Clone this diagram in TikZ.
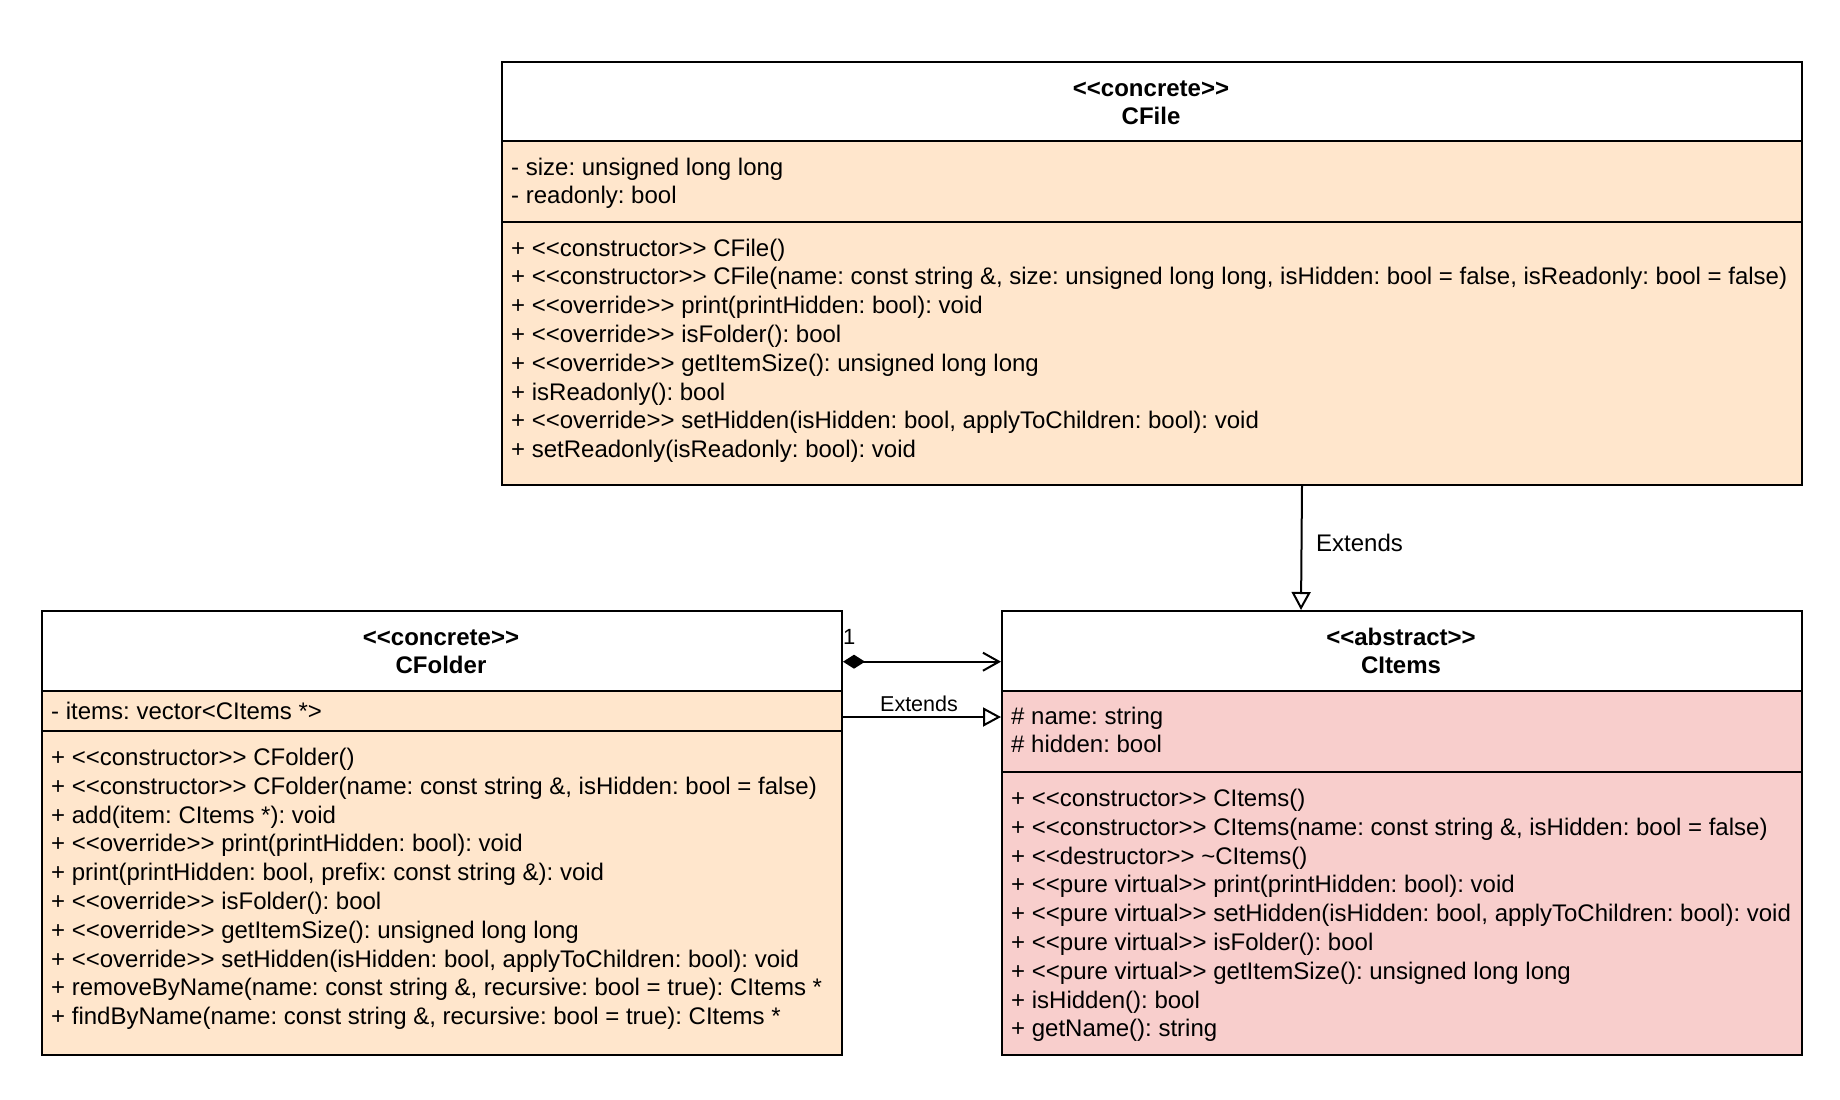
\documentclass[tikz,border=0pt]{standalone}
\usepackage{fontspec}
\setmainfont{Liberation Sans}[Ligatures=TeXOff]
\usetikzlibrary{arrows.meta}
\definecolor{peach}{HTML}{FFE6CC}
\definecolor{rosy}{HTML}{F8CECC}
\frenchspacing
\begin{document}
\begin{tikzpicture}[x=1pt, y=-1pt,
  compbox/.style={draw, line width=2pt, inner sep=0pt, anchor=north west},
  txt/.style={anchor=base west, inner sep=0pt, font=\fontsize{24}{28.8}\selectfont},
  hdrtxt/.style={anchor=base, inner sep=0pt, font=\bfseries\fontsize{24}{28.8}\selectfont},
  lbl/.style={inner sep=0pt, font=\fontsize{22}{26.4}\selectfont},
  conn/.style={line width=2pt},
  ext/.style={conn, -{Triangle[open, length=18pt, width=19pt]}},
  comp/.style={conn, {Diamond[length=22pt, width=14pt]}-{Straight Barb[length=16pt, width=18pt]}}
]
\useasboundingbox (0,0) rectangle (1840,1100);

% ---- CFile ----
\node[compbox, fill=white, minimum width=1300pt, minimum height=79pt] (cfileH) at (501,61) {};
\node[compbox, fill=peach, minimum width=1300pt, minimum height=81pt] (cfileA) at (501,140) {};
\node[compbox, fill=peach, minimum width=1300pt, minimum height=263pt] (cfileM) at (501,221) {};
\node[hdrtxt] (cfileS) at (1151,96) {<<concrete>>};
\node[hdrtxt] (cfileN) at (1151,124.8) {CFile};
\foreach \t [count=\i] in {{- size: unsigned long long},{- readonly: bool}}
  \node[txt] (cfa\i) at (511,{175+28.8*(\i-1)}) {\t};
\foreach \t [count=\i] in {
  {+ <<constructor>> CFile()},
  {+ <<constructor>> CFile(name: const string \&, size: unsigned long long, isHidden: bool = false, isReadonly: bool = false)},
  {+ <<override>> print(printHidden: bool): void},
  {+ <<override>> isFolder(): bool},
  {+ <<override>> getItemSize(): unsigned long long},
  {+ isReadonly(): bool},
  {+ <<override>> setHidden(isHidden: bool, applyToChildren: bool): void},
  {+ setReadonly(isReadonly: bool): void}}
  \node[txt] (cfm\i) at (511,{256+28.8*(\i-1)}) {\t};

% ---- CFolder ----
\node[compbox, fill=white, minimum width=800pt, minimum height=80pt] (cfolderH) at (41,610) {};
\node[compbox, fill=peach, minimum width=800pt, minimum height=40pt] (cfolderA) at (41,690) {};
\node[compbox, fill=peach, minimum width=800pt, minimum height=324pt] (cfolderM) at (41,730) {};
\node[hdrtxt] (cfolderS) at (441,645) {<<concrete>>};
\node[hdrtxt] (cfolderN) at (441,673.8) {CFolder};
\node[txt] (cfoa1) at (51,719) {- items: vector<CItems *>};
\foreach \t [count=\i] in {
  {+ <<constructor>> CFolder()},
  {+ <<constructor>> CFolder(name: const string \&, isHidden: bool = false)},
  {+ add(item: CItems *): void},
  {+ <<override>> print(printHidden: bool): void},
  {+ print(printHidden: bool, prefix: const string \&): void},
  {+ <<override>> isFolder(): bool},
  {+ <<override>> getItemSize(): unsigned long long},
  {+ <<override>> setHidden(isHidden: bool, applyToChildren: bool): void},
  {+ removeByName(name: const string \&, recursive: bool = true): CItems *},
  {+ findByName(name: const string \&, recursive: bool = true): CItems *}}
  \node[txt] (cfom\i) at (51,{765.5+28.8*(\i-1)}) {\t};

% ---- CItems ----
\node[compbox, fill=white, minimum width=800pt, minimum height=80pt] (citemsH) at (1001,610) {};
\node[compbox, fill=rosy, minimum width=800pt, minimum height=81pt] (citemsA) at (1001,690) {};
\node[compbox, fill=rosy, minimum width=800pt, minimum height=283pt] (citemsM) at (1001,771) {};
\node[hdrtxt] (citemsS) at (1401,645) {<<abstract>>};
\node[hdrtxt] (citemsN) at (1401,673.8) {CItems};
\foreach \t [count=\i] in {{\# name: string},{\# hidden: bool}}
  \node[txt] (cia\i) at (1011,{724+28.8*(\i-1)}) {\t};
\foreach \t [count=\i] in {
  {+ <<constructor>> CItems()},
  {+ <<constructor>> CItems(name: const string \&, isHidden: bool = false)},
  {+ <<destructor>> \textasciitilde CItems()},
  {+ <<pure virtual>> print(printHidden: bool): void},
  {+ <<pure virtual>> setHidden(isHidden: bool, applyToChildren: bool): void},
  {+ <<pure virtual>> isFolder(): bool},
  {+ <<pure virtual>> getItemSize(): unsigned long long},
  {+ isHidden(): bool},
  {+ getName(): string}}
  \node[txt] (cim\i) at (1011,{806.5+28.8*(\i-1)}) {\t};

% ---- connectors ----
\draw[ext] ([xshift=150pt]cfileM.south) -- ([xshift=-101pt]citemsH.north);
\node[lbl, anchor=base west, font=\fontsize{24}{28.8}\selectfont] (lblExt1) at (1316,551.5) {Extends};

\draw[comp] ([yshift=-10.7pt]cfolderH.east) -- ([yshift=-10.7pt]citemsH.west);
\node[lbl, anchor=base west] (lblOne) at (843,644) {1};

\draw[ext] ([yshift=-6pt]cfolderA.east) -- ([yshift=14.5pt]citemsA.west);
\node[lbl, anchor=base, font=\fontsize{21.5}{25.8}\selectfont] (lblExt2) at (919,711) {Extends};
\end{tikzpicture}
\end{document}
